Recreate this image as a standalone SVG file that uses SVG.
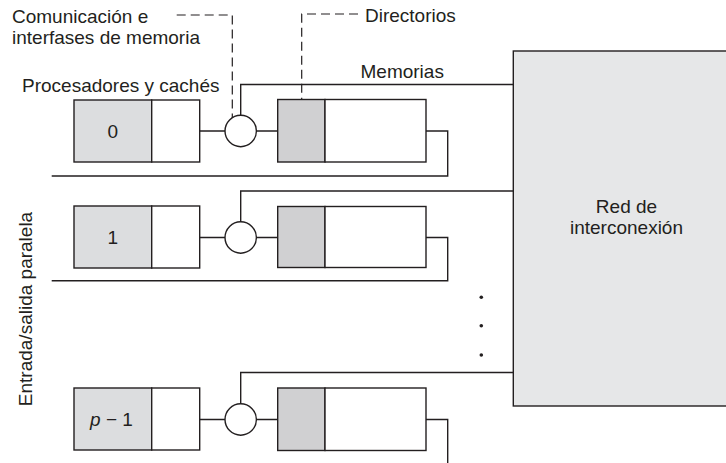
<svg xmlns="http://www.w3.org/2000/svg" width="726" height="463" viewBox="0 0 726 463">
<style>
.t{font-family:"Liberation Sans",Arial,sans-serif;font-size:19px;fill:#231f20}
.s{stroke:#231f20;stroke-width:1.4;fill:none}
.proc{fill:#dcdddf;stroke:#231f20;stroke-width:1.4}
.dir{fill:#d0d0d2;stroke:#231f20;stroke-width:1.4}
.wh{fill:#fff;stroke:#231f20;stroke-width:1.4}
.dash{stroke:#231f20;stroke-width:1.2;fill:none;stroke-dasharray:9 5}
</style>
<rect width="726" height="463" fill="#fff"/>
<g id="network">
<rect x="513.3" y="51" width="220" height="355" fill="#e6e7e8" stroke="#231f20" stroke-width="1.4"/>
<text class="t" x="626.5" y="212.5" text-anchor="middle">Red de</text>
<text class="t" x="626.5" y="234" text-anchor="middle">interconexión</text>
</g>
<g id="connectors">
<path class="s" d="M199.7 131H225M256.4 131H277.7M240.7 115.3V84.5H513.3M426 131H447.7V176H51.7"/>
<path class="s" d="M199.7 237.5H225M256.4 237.5H277.7M240.7 221.8V191H513.3M426 237.5H447.7V280.7H51.7"/>
<path class="s" d="M199.7 419.5H225M256.4 419.5H277.7M240.7 403.8V372.5H513.3M426 419.5H447.7V463"/>
<path class="dash" d="M176.7 15H232.3V126"/>
<path class="dash" d="M358 14H301.7V126"/>
</g>
<g id="node0">
<rect class="proc" x="74" y="100" width="77.7" height="62"/>
<rect class="wh" x="151.7" y="100" width="48" height="62"/>
<text class="t" x="112.8" y="137.5" text-anchor="middle">0</text>
<circle class="wh" cx="240.7" cy="131" r="15.7"/>
<rect class="dir" x="277.7" y="99.5" width="47.3" height="62.5"/>
<rect class="wh" x="325" y="99.5" width="101" height="62.5"/>
</g>
<g id="node1">
<rect class="proc" x="74" y="206" width="77.7" height="62"/>
<rect class="wh" x="151.7" y="206" width="48" height="62"/>
<text class="t" x="112.8" y="244" text-anchor="middle">1</text>
<circle class="wh" cx="240.7" cy="237.5" r="15.7"/>
<rect class="dir" x="277.7" y="206.5" width="47.3" height="61"/>
<rect class="wh" x="325" y="206.5" width="101" height="61"/>
</g>
<g id="node2">
<rect class="proc" x="74" y="388" width="77.7" height="62"/>
<rect class="wh" x="151.7" y="388" width="48" height="62"/>
<text class="t" x="111.5" y="425.5" text-anchor="middle"><tspan font-style="italic">p</tspan> − 1</text>
<circle class="wh" cx="240.7" cy="419.5" r="15.7"/>
<rect class="dir" x="277.7" y="388" width="47.3" height="62.5"/>
<rect class="wh" x="325" y="388" width="101" height="62.5"/>
</g>
<g id="labels">
<text class="t" x="12" y="22.5">Comunicación e</text>
<text class="t" x="12" y="43.5">interfases de memoria</text>
<text class="t" x="365" y="21.5">Directorios</text>
<text class="t" x="22" y="92">Procesadores y cachés</text>
<text class="t" x="360.5" y="77.5">Memorias</text>
<text class="t" transform="translate(32.3 309) rotate(-90)" text-anchor="middle">Entrada/salida paralela</text>
</g>
<g id="dots" fill="#231f20">
<circle cx="481.3" cy="297.3" r="1.8"/>
<circle cx="481.3" cy="325.7" r="1.8"/>
<circle cx="481.3" cy="355" r="1.8"/>
</g>
</svg>
